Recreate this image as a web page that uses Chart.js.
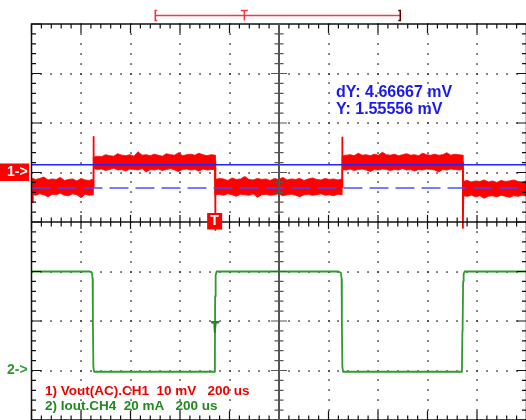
<!DOCTYPE html>
<html>
<head>
<meta charset="utf-8">
<script src="https://cdn.jsdelivr.net/npm/chart.js@4/dist/chart.umd.min.js"></script>
<style>
  html, body { margin: 0; padding: 0; background: #fff; overflow: hidden; width: 526px; height: 420px; }
  canvas { display: block; }
</style>
</head>
<body>
<canvas id="scope" width="530" height="424" style="width:530px;height:424px"></canvas>
<script>
// ---- acquisition settings ----
const timePerDivUs = 200;
const horizDivs = 10;
const vertDivs = 8;
const ch1WindowMv = [-50, 30];   // CH1 zero one division above centre
const ch2WindowMa = [-20, 140];  // CH2 zero three divisions below centre
const channelNames = ['1) Vout(AC).CH1', '2) Iout.CH4'];
const channelScales = ['10 mV', '20 mA'];
const timeScaleText = '200 us';

// ---- CH1: output ripple (mV) ----
const ch1TraceUs = [0, 3, 5, 250, 250, 252, 742, 742, 744, 1255, 1255, 1257, 1743, 1743, 1745, 2000];
const ch1TraceMv = [-3.0, -6.0, -3.0, -3.0, 7.2, 2.1, 2.1, -11.6, -3.0, -3.0, 7.1, 2.1, 2.1, -11.2, -3.0, -3.0];

// noise band of CH1, one list per flat section
const ch1SegStartUs = [0, 250, 742, 1255, 1743];
const ch1SegEndUs = [250, 742, 1255, 1743, 2000];
const ch1NoiseTopMv = [
  [-1.1, -1.4, -1.2, -0.9, -1.5, -1.3, -1.4, -1.0, -1.6, -1.4, -1.3, -1.7, -1.2, -1.5, -1.6, -1.3],
  [3.1, 3.3, 3.2, 3.6, 3.4, 3.3, 3.8, 3.5, 3.4, 3.6, 3.3, 4.2, 3.5, 3.6, 3.4, 3.7, 3.5, 3.3, 3.8, 3.6, 3.5, 4.0, 3.4, 3.6, 3.7, 3.5, 3.9, 3.6, 3.4, 3.6, 3.5],
  [-1.4, -1.2, -1.3, -1.6, -1.1, -1.4, -1.3, -0.8, -1.4, -1.5, -1.2, -1.4, -1.3, -1.6, -1.2, -1.4, -1.0, -1.5, -1.3, -1.4, -1.2, -1.6, -1.3, -1.1, -1.4, -1.5, -1.2, -1.4, -1.3, -1.5, -1.3],
  [3.3, 3.5, 3.6, 3.4, 3.9, 3.5, 3.6, 3.4, 3.7, 3.5, 4.1, 3.6, 3.5, 3.7, 3.4, 3.6, 3.8, 3.5, 3.6, 3.4, 3.9, 3.6, 3.5, 3.7, 3.5, 3.6, 4.0, 3.5, 3.7, 3.6, 3.5],
  [-1.8, -1.6, -1.9, -1.7, -1.8, -1.5, -1.9, -1.7, -2.0, -1.6, -1.8, -1.7, -1.5, -1.8, -1.9, -1.7]
];
const ch1NoiseBottomMv = [
  [-4.4, -4.6, -4.3, -4.5, -4.9, -4.4, -4.5, -4.2, -4.6, -4.7, -4.3, -4.5, -5.1, -4.4, -4.6, -4.5],
  [0.8, 0.6, 0.7, 0.4, 0.6, 0.9, 0.5, 0.6, 0.3, 0.7, 0.6, 0.5, 0.8, 0.1, 0.6, 0.5, 0.7, 0.4, 0.6, 0.8, 0.5, 0.2, 0.6, 0.7, 0.5, 0.6, 0.3, 0.7, 0.5, 0.6, 0.6],
  [-4.5, -4.4, -4.6, -4.3, -4.5, -4.8, -4.4, -4.5, -4.6, -4.3, -5.0, -4.5, -4.4, -4.6, -4.5, -4.3, -4.7, -4.5, -4.4, -4.6, -4.9, -4.5, -4.4, -4.6, -4.5, -4.3, -4.6, -4.5, -4.7, -4.4, -4.5],
  [0.6, 0.5, 0.7, 0.4, 0.6, 0.7, 0.5, 0.2, 0.6, 0.5, 0.7, 0.6, 0.4, 0.6, 0.5, 0.8, 0.5, 0.6, 0.3, 0.6, 0.5, 0.7, 0.6, 0.5, 0.1, 0.6, 0.5, 0.7, 0.6, 0.5, 0.6],
  [-4.7, -4.8, -4.6, -4.9, -4.7, -5.2, -4.8, -4.7, -4.9, -4.6, -4.8, -5.0, -4.7, -4.8, -4.6, -4.8]
];

// ---- CH4: load current (mA) ----
const ch2TraceUs = [0, 236, 244, 247, 248, 250, 253, 740, 741, 742, 744, 748, 1240, 1250, 1253, 1254, 1256, 1259, 1739, 1741, 1742, 1744, 1746, 1750, 2000];
const ch2TraceMa = [40, 40, 39.5, 37, 20, 1.5, -0.5, -0.5, 4, 30, 38.5, 40, 40, 39.5, 37, 20, 1.5, -0.5, -0.5, 16, 18, 36, 39, 40, 40];

// ---- cursors and trigger ----
const cursorReadoutMv = [4.66667, 1.55556];   // dY, Y
const triggerUs = [742];
const triggerLevelMa = [20];
const recordBarUs = [500, 860, 1490];         // record start, trigger mark, record end

const pts = (xs, ys) => xs.map((x, i) => ({ x, y: ys[i] }));
function bandEdge(lists) {
  const out = [];
  lists.forEach((seg, s) => {
    const t0 = ch1SegStartUs[s], t1 = ch1SegEndUs[s];
    seg.forEach((v, i) => out.push({ x: t0 + (t1 - t0) * i / (seg.length - 1), y: v }));
  });
  return out;
}

const RED = '#ff0000';
const GREEN = '#2f9a2f';
const BLUE = '#2222ff';
const cursorY = cursorReadoutMv[1];
const cursorY2 = cursorReadoutMv[1] - cursorReadoutMv[0];
const fullSpanUs = [0, timePerDivUs * horizDivs];

const scopeDecor = {
  id: 'scopeDecor',
  beforeDatasetsDraw(chart) {
    const { ctx, chartArea: a } = chart;
    const dx = (a.right - a.left) / horizDivs, dy = (a.bottom - a.top) / vertDivs;
    ctx.save();
    ctx.fillStyle = '#2a2a2a';
    for (let k = 1; k < horizDivs; k++) {
      if (k === horizDivs / 2) continue;
      const x = Math.round(a.left + k * dx);
      for (let j = 0; j <= vertDivs * 5; j++) {
        ctx.fillRect(x - 0.7, Math.round(a.top + j * dy / 5) - 0.7, 1.5, 1.5);
      }
    }
    for (let k = 1; k < vertDivs; k++) {
      if (k === vertDivs / 2) continue;
      const y = Math.round(a.top + k * dy);
      for (let j = 0; j <= horizDivs * 5; j++) {
        ctx.fillRect(Math.round(a.left + j * dx / 5) - 0.7, y - 0.7, 1.5, 1.5);
      }
    }
    ctx.restore();
  },
  afterDatasetsDraw(chart) {
    const { ctx, chartArea: a, scales } = chart;
    const dx = (a.right - a.left) / horizDivs, dy = (a.bottom - a.top) / vertDivs;
    const cx = a.left + dx * horizDivs / 2, cy = a.top + dy * vertDivs / 2;
    ctx.save();
    // outer frame
    ctx.strokeStyle = '#111';
    ctx.lineWidth = 1.5;
    ctx.strokeRect(a.left, a.top, a.right - a.left, a.bottom - a.top);
    ctx.lineWidth = 1.2;
    ctx.beginPath();
    for (let j = 0; j <= horizDivs * 5; j++) {
      const x = a.left + j * dx / 5, len = j % 5 === 0 ? 9 : 4.5;
      ctx.moveTo(x, a.top); ctx.lineTo(x, a.top + len);
      ctx.moveTo(x, a.bottom); ctx.lineTo(x, a.bottom - len);
    }
    for (let j = 0; j <= vertDivs * 5; j++) {
      const y = a.top + j * dy / 5, len = j % 5 === 0 ? 10 : 4.5;
      ctx.moveTo(a.left, y); ctx.lineTo(a.left + len, y);
      ctx.moveTo(a.right, y); ctx.lineTo(a.right - len, y);
    }
    ctx.stroke();
    // centre cross
    ctx.strokeStyle = '#555';
    ctx.lineWidth = 2;
    ctx.beginPath(); ctx.moveTo(cx, a.top); ctx.lineTo(cx, a.bottom); ctx.stroke();
    ctx.lineWidth = 1.2;
    ctx.beginPath();
    for (let j = 0; j <= vertDivs * 5; j++) {
      const y = a.top + j * dy / 5, len = j % 5 === 0 ? 8 : 4.5;
      ctx.moveTo(cx - len, y); ctx.lineTo(cx + len, y);
    }
    ctx.stroke();
    ctx.strokeStyle = '#111';
    ctx.lineWidth = 1.5;
    ctx.beginPath(); ctx.moveTo(a.left, cy); ctx.lineTo(a.right, cy); ctx.stroke();
    ctx.lineWidth = 1.2;
    ctx.beginPath();
    for (let j = 0; j <= horizDivs * 5; j++) {
      const x = a.left + j * dx / 5, len = j % 5 === 0 ? 7 : 4.5;
      ctx.moveTo(x, cy - len); ctx.lineTo(x, cy + len);
    }
    ctx.stroke();

    // channel zero markers
    const y1z = scales.y1.getPixelForValue(0);
    const y2z = scales.y2.getPixelForValue(0);
    ctx.fillStyle = RED;
    ctx.fillRect(0, y1z - 9, 29, 17.5);
    ctx.font = 'bold 14px "Liberation Sans", Arial, sans-serif';
    ctx.textBaseline = 'middle';
    ctx.textAlign = 'left';
    ctx.fillStyle = '#fff';
    ctx.fillText('1->', 7, y1z);
    ctx.fillStyle = GREEN;
    ctx.fillText('2->', 7, y2z);

    // trigger position marker on the time axis
    const tx = scales.x.getPixelForValue(triggerUs[0]);
    ctx.fillStyle = RED;
    ctx.fillRect(tx - 8, cy - 9, 15, 16.5);
    ctx.fillStyle = '#fff';
    ctx.textAlign = 'center';
    ctx.font = 'bold 14px "Liberation Sans", Arial, sans-serif';
    ctx.fillText('T', tx - 0.5, cy - 0.5);

    // CH4 trigger level marker
    const ty = scales.y2.getPixelForValue(triggerLevelMa[0]);
    ctx.fillStyle = '#1f8a1f';
    ctx.beginPath();
    ctx.moveTo(tx - 4, ty); ctx.lineTo(tx + 4, ty); ctx.lineTo(tx + 4, ty + 2.5);
    ctx.lineTo(tx + 1.5, ty + 2.5); ctx.lineTo(tx + 0.5, ty + 12); ctx.lineTo(tx - 1.2, ty + 12);
    ctx.lineTo(tx - 1.8, ty + 2.5); ctx.lineTo(tx - 4, ty + 2.5); ctx.closePath();
    ctx.fill();

    // record bar above the graticule
    const rx0 = scales.x.getPixelForValue(recordBarUs[0]);
    const rxT = scales.x.getPixelForValue(recordBarUs[1]);
    const rx1 = scales.x.getPixelForValue(recordBarUs[2]);
    const by = 15.5;
    ctx.strokeStyle = '#f23a3a';
    ctx.lineWidth = 1.5;
    ctx.beginPath();
    ctx.moveTo(rx0, by); ctx.lineTo(rx1, by);
    ctx.moveTo(rx0 + 2, 10.5); ctx.lineTo(rx0, 10.5); ctx.lineTo(rx0, 20.5); ctx.lineTo(rx0 + 2, 20.5);
    ctx.moveTo(rxT - 3.5, 10.5); ctx.lineTo(rxT + 3.5, 10.5);
    ctx.moveTo(rxT, 10.5); ctx.lineTo(rxT, 20.5);
    ctx.stroke();
    ctx.strokeStyle = '#5a0000';
    ctx.beginPath();
    ctx.moveTo(rx1 - 2, 10.5); ctx.lineTo(rx1, 10.5); ctx.lineTo(rx1, 20.5); ctx.lineTo(rx1 - 2, 20.5);
    ctx.stroke();

    // cursor readout
    ctx.textAlign = 'left';
    ctx.textBaseline = 'alphabetic';
    ctx.fillStyle = '#1a1aee';
    ctx.font = 'bold 16px "Liberation Sans", Arial, sans-serif';
    ctx.fillText('dY: ' + cursorReadoutMv[0].toFixed(5) + ' mV', 336, 96.5);
    ctx.fillText('Y: ' + cursorReadoutMv[1].toFixed(5) + ' mV', 336, 113.5);

    // channel settings
    ctx.font = 'bold 13.5px "Liberation Sans", Arial, sans-serif';
    ctx.fillStyle = '#ee0000';
    ctx.fillText(channelNames[0] + '  ' + channelScales[0] + '   ' + timeScaleText, 45, 394.5);
    ctx.fillStyle = '#1f8a1f';
    ctx.fillText(channelNames[1] + '  ' + channelScales[1] + '   ' + timeScaleText, 45, 409.5);
    ctx.restore();
  }
};

new Chart(document.getElementById('scope'), {
  type: 'line',
  data: {
    datasets: [
      { // Y cursor
        data: pts(fullSpanUs, [cursorY, cursorY]), yAxisID: 'y1',
        borderColor: BLUE, borderWidth: 1.6, order: 0
      },
      { // reference cursor
        data: pts(fullSpanUs, [cursorY2, cursorY2]), yAxisID: 'y1',
        borderColor: 'rgba(70,70,255,0.72)', borderWidth: 2, borderDash: [19, 7], order: 0
      },
      { // CH1 noise band, upper edge
        data: bandEdge(ch1NoiseTopMv), yAxisID: 'y1',
        borderColor: RED, borderWidth: 0.8, backgroundColor: RED, fill: '+1', order: 2
      },
      { // CH1 noise band, lower edge
        data: bandEdge(ch1NoiseBottomMv), yAxisID: 'y1',
        borderColor: RED, borderWidth: 0.8, fill: false, order: 2
      },
      { // CH1 edges and spikes
        data: pts(ch1TraceUs, ch1TraceMv), yAxisID: 'y1',
        borderColor: RED, borderWidth: 1.8, order: 1
      },
      { // CH4 load current
        data: pts(ch2TraceUs, ch2TraceMa), yAxisID: 'y2',
        borderColor: GREEN, borderWidth: 1.8, order: 3
      }
    ]
  },
  options: {
    responsive: false,
    animation: false,
    events: [],
    layout: { padding: { left: 31.5, top: 24, right: 3.5, bottom: 4 } },
    elements: { point: { radius: 0 }, line: { tension: 0, borderJoinStyle: 'round' } },
    plugins: { legend: { display: false }, tooltip: { enabled: false } },
    scales: {
      x: { type: 'linear', min: fullSpanUs[0], max: fullSpanUs[1], display: false },
      y1: { type: 'linear', min: ch1WindowMv[0], max: ch1WindowMv[1], display: false },
      y2: { type: 'linear', min: ch2WindowMa[0], max: ch2WindowMa[1], display: false }
    }
  },
  plugins: [scopeDecor]
});
</script>
</body>
</html>
